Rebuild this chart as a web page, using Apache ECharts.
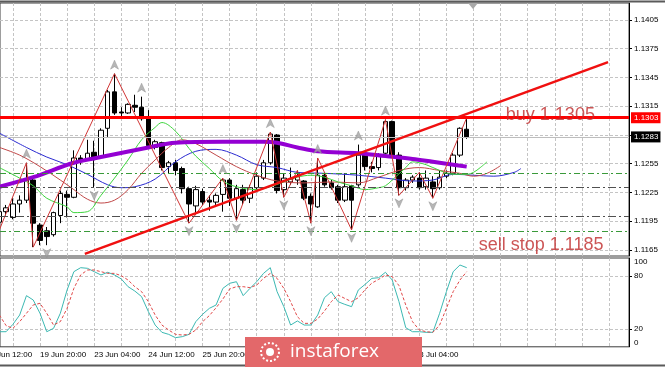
<!DOCTYPE html>
<html><head><meta charset="utf-8">
<script src="https://cdn.jsdelivr.net/npm/echarts@6/dist/echarts.min.js"></script>
<style>html,body{margin:0;padding:0;background:#fff}#c{width:665px;height:367px}</style>
</head><body><div id="c"></div>
<script>
// ---- time labels (H4 bars, index 0 = 18 Jun 12:00) ----
const xLabelIdx  = [0, 8, 16, 24, 32, 40, 48, 56, 64];
const xLabelText = ['18 Jun 12:00','19 Jun 20:00','23 Jun 04:00','24 Jun 12:00','25 Jun 20:00','29 Jun 04:00','30 Jun 12:00','1 Jul 20:00','3 Jul 04:00'];
const priceTicks = [1.1165, 1.1195, 1.1225, 1.1255, 1.1285, 1.1315, 1.1345, 1.1375, 1.1405];
const stochTicks = [0, 20, 80, 100];

// ---- candles (bar index = position in array) ----
const openP  = [1.1215,1.1205,1.1194,1.1205,1.1199,1.1213,1.1217,1.1238,1.1191,1.1185,1.1181,1.1201,1.1223,1.1220,1.1261,1.1260,1.1267,1.1262,1.1292,1.1330,1.1309,1.1308,1.1316,1.1314,1.1303,1.1272,1.1277,1.1252,1.1256,1.1250,1.1229,1.1211,1.1226,1.1217,1.1215,1.1223,1.1238,1.1219,1.1228,1.1219,1.1230,1.1240,1.1256,1.1285,1.1228,1.1236,1.1238,1.1237,1.1221,1.1210,1.1243,1.1235,1.1231,1.1217,1.1232,1.1233,1.1264,1.1252,1.1251,1.1266,1.1299,1.1264,1.1230,1.1238,1.1240,1.1231,1.1236,1.1230,1.1242,1.1245,1.1264,1.1291];
const closeP = [1.1205,1.1196,1.1205,1.1209,1.1213,1.1217,1.1238,1.1193,1.1175,1.1179,1.1204,1.1224,1.1220,1.1261,1.1259,1.1266,1.1261,1.1290,1.1330,1.1308,1.1308,1.1317,1.1314,1.1302,1.1274,1.1278,1.1251,1.1256,1.1248,1.1229,1.1213,1.1228,1.1215,1.1215,1.1222,1.1238,1.1219,1.1229,1.1217,1.1230,1.1242,1.1256,1.1286,1.1227,1.1240,1.1239,1.1242,1.1219,1.1213,1.1243,1.1233,1.1230,1.1217,1.1231,1.1217,1.1264,1.1252,1.1250,1.1264,1.1299,1.1264,1.1230,1.1238,1.1241,1.1230,1.1240,1.1229,1.1241,1.1245,1.1264,1.1292,1.1283];
const highP  = [1.1220,1.1210,1.1209,1.1212,1.1219,1.1222,1.1256,1.1241,1.1193,1.1189,1.1205,1.1227,1.1227,1.1269,1.1264,1.1280,1.1279,1.1292,1.1332,1.1349,1.1314,1.1318,1.1327,1.1325,1.1311,1.1280,1.1278,1.1258,1.1259,1.1252,1.1231,1.1232,1.1229,1.1222,1.1224,1.1240,1.1240,1.1233,1.1233,1.1233,1.1246,1.1259,1.1288,1.1286,1.1245,1.1251,1.1248,1.1238,1.1224,1.1261,1.1245,1.1238,1.1233,1.1245,1.1233,1.1275,1.1266,1.1257,1.1266,1.1301,1.1300,1.1267,1.1240,1.1243,1.1246,1.1248,1.1242,1.1248,1.1248,1.1266,1.1293,1.1303];
const lowP   = [1.1200,1.1188,1.1186,1.1201,1.1197,1.1204,1.1214,1.1168,1.1170,1.1170,1.1179,1.1193,1.1199,1.1219,1.1254,1.1259,1.1230,1.1261,1.1283,1.1306,1.1303,1.1307,1.1309,1.1300,1.1271,1.1270,1.1248,1.1245,1.1243,1.1224,1.1193,1.1204,1.1212,1.1206,1.1212,1.1205,1.1211,1.1196,1.1212,1.1214,1.1228,1.1238,1.1254,1.1224,1.1220,1.1233,1.1233,1.1217,1.1193,1.1209,1.1231,1.1228,1.1214,1.1215,1.1186,1.1231,1.1248,1.1246,1.1248,1.1262,1.1262,1.1222,1.1227,1.1235,1.1228,1.1228,1.1219,1.1228,1.1240,1.1243,1.1262,1.1281];

// ---- Alligator (jaw / teeth / lips), read at sample bars ----
const jawIdx   = [2,6,9,12,15,18,20,22,25,28,31,34,37,40,43,46,50,55,59,63,66,69,72,75,78,79];
const jawPrice = [1.1287,1.1272,1.1262,1.1254,1.1244,1.1233,1.1230,1.1231,1.1239,1.1257,1.1268,1.1270,1.1264,1.1254,1.1251,1.1246,1.1245,1.1243,1.1240,1.1237,1.1238,1.1244,1.1243,1.1242,1.1246,1.1250];
const teethIdx   = [2,5,8,11,13,15,17,19,21,23,25,27,29,31,34,37,40,43,47,51,55,58,61,64,67,70,72,74,76];
const teethPrice = [1.1272,1.1264,1.1252,1.1238,1.1228,1.1218,1.1214,1.1217,1.1228,1.1245,1.1259,1.1272,1.1280,1.1276,1.1264,1.1252,1.1243,1.1237,1.1235,1.1236,1.1235,1.1241,1.1248,1.1251,1.1248,1.1245,1.1242,1.1245,1.1253];
const lipsIdx   = [2,5,7,9,12,13,15,17,19,21,23,25,26,28,30,31,33,35,37,40,42,44,46,48,50,52,54,56,58,59,60,62,63,65,67,69,71,72,73,74];
const lipsPrice = [1.1251,1.1240,1.1232,1.1219,1.1210,1.1204,1.1205,1.1222,1.1240,1.1259,1.1280,1.1293,1.1298,1.1289,1.1271,1.1263,1.1250,1.1237,1.1231,1.1228,1.1231,1.1236,1.1241,1.1243,1.1241,1.1236,1.1232,1.1228,1.1230,1.1232,1.1238,1.1251,1.1257,1.1254,1.1248,1.1244,1.1244,1.1246,1.1251,1.1257];
// ---- slow moving average (purple) ----
const maIdx   = [2,7,13,17,24,28,35,41,43,46,49,55,59,63,66,69,71];
const maPrice = [1.1231,1.1241,1.1256,1.1262,1.1272,1.1277,1.1278,1.1278,1.1277,1.1272,1.1268,1.1266,1.1263,1.1260,1.1257,1.1254,1.1252];
// ---- ZigZag & fractals ----
const zzIdx   = [2,6,7,19,30,35,37,42,44,46,48,49,54,59,61,64,66,71];
const zzPrice = [1.1186,1.1256,1.1168,1.1349,1.1193,1.1240,1.1196,1.1288,1.1220,1.1248,1.1193,1.1261,1.1186,1.1301,1.1222,1.1246,1.1219,1.1303];
const fracUpIdx   = [6,19,23,35,42,49,55,59];
const fracDownIdx = [2,9,16,30,37,44,48,54,61,66];
// ---- objects ----
const trendIdx   = [14.62, 91.87];
const trendPrice = [1.1161, 1.1361];
const levelPrice = [1.1303, 1.1283, 1.1245, 1.1230, 1.1200, 1.1185];
const noteText  = ['buy 1.1305', 'sell stop 1.1185'];
const noteIdx   = [76.7, 72.7];
const notePrice = [1.1306, 1.1170];
// ---- Stochastic (starts at bar 2) ----
const stochStart = 2;
const stochK = [17.0,17.0,25.3,35.8,57.6,52.7,37.7,17.0,20.8,37.7,64.0,84.6,89.1,88.4,84.6,80.9,83.9,80.9,76.4,67.7,62.8,56.5,39.6,24.5,16.3,14.0,10.3,11.4,14.0,28.3,36.6,43.3,47.1,65.8,71.5,73.3,57.6,65.8,73.3,82.7,89.1,62.1,45.2,24.5,29.1,24.5,24.5,35.8,55.3,62.1,50.8,47.8,45.2,64.0,70.3,77.1,77.8,83.9,75.2,50.8,21.5,17.0,17.0,16.3,16.3,37.7,62.1,84.6,92.1,89.1];
const stochD = [35.8,23.8,20.8,28.3,37.7,47.1,49.0,37.7,24.5,28.3,43.3,65.8,80.9,86.5,86.5,84.6,82.7,82.7,80.1,75.2,67.7,62.1,50.8,35.8,24.5,18.9,14.0,13.3,14.0,18.9,28.3,35.1,44.0,53.8,65.1,67.7,67.7,66.6,69.6,77.1,82.7,77.1,65.8,50.8,33.9,26.4,26.4,31.3,40.3,50.8,58.3,54.5,50.8,55.3,64.3,71.8,75.9,80.9,79.0,68.9,47.1,28.3,18.9,17.0,16.3,24.5,43.3,62.1,75.2,84.6];

// ------------------------------------------------------------
const FONT = 'Liberation Sans, Arial, sans-serif';
const X_MIN = 2.094, X_MAX = 94.96;
const gridEvery4 = []; for (let v = 4; v <= 92; v += 4) gridEvery4.push(v);
const pairs = (a, b) => a.map((v, k) => [v, b[k]]);
const dash = {color: '#c4c4c4', width: 1, type: [3, 2]};

const levelStyles = [
  {color: '#ff0000', width: 3, type: 'solid'},
  {color: '#bdbdbd', width: 1, type: 'solid'},
  {color: '#3a9a3a', width: 1, type: [6, 3, 2, 3]},
  {color: '#505050', width: 1, type: [8, 3, 2, 3]},
  {color: '#505050', width: 1, type: [8, 3, 2, 3]},
  {color: '#3a9a3a', width: 1, type: [6, 3, 2, 3]}
];
const tagBg = ['#ff0000', '#000000', null, null, null, null];

const upArrow = 'path://M5 0 L10 9 L5 6.5 L0 9 Z';
const downArrow = 'path://M0 0 L5 2.5 L10 0 L5 9 Z';

const chart = echarts.init(document.getElementById('c'), null, {renderer: 'canvas'});
chart.setOption({
  animation: false,
  backgroundColor: '#ffffff',
  textStyle: {fontFamily: FONT},
  grid: [
    {left: 0, right: 36, top: 3, height: 253, show: true, borderColor: '#3c3c3c', borderWidth: 1, backgroundColor: 'transparent'},
    {left: 0, right: 36, top: 258, height: 88.8, show: true, borderColor: '#3c3c3c', borderWidth: 1, backgroundColor: 'transparent'}
  ],
  xAxis: [
    {type: 'value', gridIndex: 0, min: X_MIN, max: X_MAX,
     axisLine: {show: false}, axisTick: {show: false, customValues: gridEvery4},
     axisLabel: {show: false}, splitLine: {show: true, lineStyle: dash}},
    {type: 'value', gridIndex: 1, min: X_MIN, max: X_MAX,
     axisLine: {show: false}, axisTick: {show: false, customValues: gridEvery4},
     axisLabel: {show: true, customValues: xLabelIdx, align: 'left', margin: 4, fontSize: 8, color: '#000', fontFamily: FONT,
       formatter: v => { const k = xLabelIdx.indexOf(Math.round(v)); return k >= 0 ? xLabelText[k] : ''; }},
     splitLine: {show: true, lineStyle: dash}}
  ],
  yAxis: [
    {type: 'value', gridIndex: 0, position: 'right', min: 1.115873, max: 1.142274, scale: true,
     axisLine: {show: true, lineStyle: {color: '#000', width: 1}},
     axisTick: {show: true, length: 3, customValues: priceTicks, lineStyle: {color: '#000'}},
     axisLabel: {customValues: priceTicks, formatter: v => v.toFixed(4), fontSize: 8, color: '#000', margin: 5, fontFamily: FONT},
     splitLine: {show: true, lineStyle: dash}},
    {type: 'value', gridIndex: 1, position: 'right', min: 0, max: 100,
     axisLine: {show: true, lineStyle: {color: '#000', width: 1}},
     axisTick: {show: true, length: 3, customValues: [20, 80], lineStyle: {color: '#000'}},
     axisLabel: {customValues: stochTicks, fontSize: 8, color: '#000', margin: 5, fontFamily: FONT,
       verticalAlignMaxLabel: 'top', verticalAlignMinLabel: 'bottom'},
     splitLine: {show: true, lineStyle: dash}}
  ],
  series: [
    {type: 'candlestick', name: 'EURUSD', xAxisIndex: 0, yAxisIndex: 0, barWidth: 5, z: 3,
     dimensions: ['t', 'open', 'close', 'low', 'high'], encode: {x: 0, y: [1, 2, 3, 4]},
     data: openP.map((o, i) => [i, o, closeP[i], lowP[i], highP[i]]),
     itemStyle: {color: '#ffffff', color0: '#000000', borderColor: '#000000', borderColor0: '#000000', borderWidth: 1}},
    {type: 'line', name: 'jaw', data: pairs(jawIdx, jawPrice), smooth: 0.35, symbol: 'none', z: 4,
     lineStyle: {color: '#2a2ad0', width: 1}},
    {type: 'line', name: 'teeth', data: pairs(teethIdx, teethPrice), smooth: 0.35, symbol: 'none', z: 4,
     lineStyle: {color: '#c04848', width: 1}},
    {type: 'line', name: 'lips', data: pairs(lipsIdx, lipsPrice), smooth: 0.35, symbol: 'none', z: 4,
     lineStyle: {color: '#3ed43e', width: 1}},
    {type: 'line', name: 'ma', data: pairs(maIdx, maPrice), smooth: 0.35, symbol: 'none', z: 5,
     lineStyle: {color: '#9400d3', width: 4}},
    {type: 'line', name: 'zigzag', data: pairs(zzIdx, zzPrice), symbol: 'none', z: 5,
     lineStyle: {color: '#d03535', width: 1}},
    {type: 'scatter', name: 'fracUp', data: fracUpIdx.map(i => [i, highP[i]]), symbol: upArrow, symbolSize: [8, 9],
     symbolOffset: [0, -9], z: 6, itemStyle: {color: '#a4a4a4', borderColor: '#8a8a8a', borderWidth: 0.5}},
    {type: 'scatter', name: 'fracDown', data: fracDownIdx.map(i => [i, lowP[i]]), symbol: downArrow, symbolSize: [8, 9],
     symbolOffset: [0, 8], z: 6, itemStyle: {color: '#a4a4a4', borderColor: '#8a8a8a', borderWidth: 0.5}},
    {type: 'line', name: 'trend', data: pairs(trendIdx, trendPrice), symbol: 'none', z: 7,
     lineStyle: {color: '#f01010', width: 2.5},
     markLine: {silent: true, symbol: ['none', 'none'], precision: 4, z: 6,
       data: levelPrice.map((p, k) => ({
         yAxis: p, lineStyle: levelStyles[k],
         label: tagBg[k] ? {show: true, position: 'end', distance: 2, formatter: p.toFixed(4), fontSize: 8, fontFamily: FONT,
           color: '#fff', backgroundColor: tagBg[k], padding: [2, 2, 1, 3]} : {show: false}
       }))}},
    {type: 'scatter', name: 'notes', data: pairs(noteIdx, notePrice), symbolSize: 1, z: 8,
     itemStyle: {color: 'rgba(0,0,0,0)'},
     label: {show: true, position: 'right', distance: 0, formatter: p => noteText[p.dataIndex],
       fontSize: 18, fontFamily: FONT, color: '#bf2a2a'}},
    {type: 'line', name: '%K', xAxisIndex: 1, yAxisIndex: 1, data: stochK.map((v, k) => [k + stochStart, v]),
     symbol: 'none', lineStyle: {color: '#3cb8b2', width: 1}},
    {type: 'line', name: '%D', xAxisIndex: 1, yAxisIndex: 1, data: stochD.map((v, k) => [k + stochStart, v]),
     symbol: 'none', lineStyle: {color: '#e04848', width: 1, type: [3, 2]}}
  ]
});

// first time label sits left of the visible window (partly clipped, as in the reference)
const firstLabelX = chart.convertToPixel({xAxisIndex: 1}, xLabelIdx[0]);
const stochBottom = chart.convertToPixel({yAxisIndex: 1}, 0);
chart.setOption({
  graphic: [
    {type: 'text', x: firstLabelX, y: stochBottom + 4, z: 50,
     style: {text: xLabelText[0], fill: '#000', font: '8px ' + FONT, verticalAlign: 'top', align: 'left'}},
    {type: 'line', shape: {x1: 0, y1: 1.5, x2: 665, y2: 1.5}, style: {stroke: '#5a5a5a', lineWidth: 2}, z: 100},
    {type: 'line', shape: {x1: 0, y1: 365.5, x2: 665, y2: 365.5}, style: {stroke: '#5a5a5a', lineWidth: 2}, z: 100},
    {type: 'polygon', shape: {points: [[468, 3], [478, 3], [473, 9]]}, style: {fill: '#a8a8a8'}, z: 100},
    {type: 'rect', zlevel: 1, z: 200, shape: {x: 245, y: 337, width: 177, height: 32}, style: {fill: '#e3686a'}},
    {type: 'circle', zlevel: 1, z: 201, shape: {cx: 270, cy: 352, r: 9}, style: {fill: 'none', stroke: '#fff', lineWidth: 2, lineDash: [2, 2]}},
    {type: 'circle', zlevel: 1, z: 201, shape: {cx: 270, cy: 352, r: 4}, style: {fill: '#fff'}},
    {type: 'text', zlevel: 1, z: 201, x: 290, y: 352, style: {text: 'instaforex', fill: '#ffffff', font: '19px "Open Sans", sans-serif', verticalAlign: 'middle'}}
  ]
});
</script></body></html>
